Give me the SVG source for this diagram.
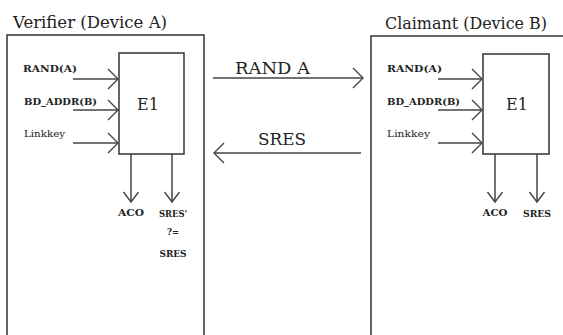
<svg xmlns="http://www.w3.org/2000/svg" width="563" height="335" viewBox="0 0 563 335">
<defs>
<style>
.box{fill:none;stroke:#333;stroke-width:1.5}
.ln{fill:none;stroke:#444;stroke-width:1.5}
.title{font-family:"DejaVu Serif","Liberation Serif",serif;font-size:16px;fill:#222}
.big{font-family:"DejaVu Serif","Liberation Serif",serif;font-size:16px;fill:#222}
.sm{font-family:"DejaVu Serif","Liberation Serif",serif;font-size:9.5px;font-weight:bold;fill:#222}
.smn{font-family:"DejaVu Serif","Liberation Serif",serif;font-size:10px;fill:#222}
</style>
<marker id="ah" markerUnits="userSpaceOnUse" markerWidth="26" markerHeight="26" viewBox="-13 -13 26 26" refX="0" refY="0" orient="auto">
<path d="M-10,-10 L0,0 L-10,10" fill="none" stroke="#444" stroke-width="1.4"/>
</marker>
<marker id="ahs" markerUnits="userSpaceOnUse" markerWidth="24" markerHeight="24" viewBox="-12 -12 24 24" refX="0" refY="0" orient="auto">
<path d="M-10,-7.5 L0,0 L-10,7.5" fill="none" stroke="#444" stroke-width="1.4"/>
</marker>
</defs>
<rect width="563" height="335" fill="#fff"/>

<g id="verifier">
<path class="box" d="M7,336 V35 H204 V336"/>
<text class="title" x="13" y="28" textLength="154" lengthAdjust="spacingAndGlyphs">Verifier (Device A)</text>
</g>
<g id="e1-a">
<rect class="box" x="119" y="53" width="65" height="101"/>
<text class="big" x="148" y="110" text-anchor="middle">E1</text>
</g>
<g id="inputs-a">
<text class="sm" x="23" y="72" textLength="54" lengthAdjust="spacingAndGlyphs">RAND(A)</text>
<text class="sm" x="24" y="105" textLength="73" lengthAdjust="spacingAndGlyphs">BD_ADDR(B)</text>
<text class="smn" x="24" y="137" textLength="41" lengthAdjust="spacingAndGlyphs">Linkkey</text>
</g>
<g id="outputs-a">
<text class="sm" x="131" y="216" text-anchor="middle" textLength="26" lengthAdjust="spacingAndGlyphs">ACO</text>
<text class="sm" x="173" y="217" text-anchor="middle" textLength="28" lengthAdjust="spacingAndGlyphs">SRES'</text>
<text class="sm" x="173" y="235" text-anchor="middle" textLength="12" lengthAdjust="spacingAndGlyphs">?=</text>
<text class="sm" x="173" y="257" text-anchor="middle" textLength="27" lengthAdjust="spacingAndGlyphs">SRES</text>
</g>

<g id="claimant">
<path class="box" d="M371,336 V36 H565"/>
<text class="title" x="385" y="29" textLength="162" lengthAdjust="spacingAndGlyphs">Claimant (Device B)</text>
</g>
<g id="e1-b">
<rect class="box" x="483" y="54" width="66" height="100"/>
<text class="big" x="517" y="110" text-anchor="middle">E1</text>
</g>
<g id="inputs-b">
<text class="sm" x="387" y="72" textLength="55" lengthAdjust="spacingAndGlyphs">RAND(A)</text>
<text class="sm" x="387" y="105" textLength="73" lengthAdjust="spacingAndGlyphs">BD_ADDR(B)</text>
<text class="smn" x="387" y="137" textLength="43" lengthAdjust="spacingAndGlyphs">Linkkey</text>
</g>
<g id="outputs-b">
<text class="sm" x="495" y="216" text-anchor="middle" textLength="25" lengthAdjust="spacingAndGlyphs">ACO</text>
<text class="sm" x="537" y="217" text-anchor="middle" textLength="28" lengthAdjust="spacingAndGlyphs">SRES</text>
</g>

<g id="messages">
<text class="big" x="235" y="74" textLength="75" lengthAdjust="spacingAndGlyphs">RAND A</text>
<text class="big" x="258" y="145" textLength="48" lengthAdjust="spacingAndGlyphs">SRES</text>
</g>

<g id="connectors">
<line class="ln" x1="73" y1="79" x2="118" y2="79" marker-end="url(#ah)"/>
<line class="ln" x1="73" y1="110" x2="118" y2="110" marker-end="url(#ah)"/>
<line class="ln" x1="73" y1="143" x2="118" y2="143" marker-end="url(#ah)"/>
<line class="ln" x1="131" y1="154" x2="131" y2="202" marker-end="url(#ahs)"/>
<line class="ln" x1="172" y1="154" x2="172" y2="202" marker-end="url(#ahs)"/>
<line class="ln" x1="438" y1="79" x2="482" y2="79" marker-end="url(#ah)"/>
<line class="ln" x1="438" y1="110" x2="482" y2="110" marker-end="url(#ah)"/>
<line class="ln" x1="438" y1="143" x2="482" y2="143" marker-end="url(#ah)"/>
<line class="ln" x1="495" y1="154" x2="495" y2="202" marker-end="url(#ahs)"/>
<line class="ln" x1="537" y1="154" x2="537" y2="202" marker-end="url(#ahs)"/>
<line class="ln" x1="213" y1="78" x2="363" y2="78" marker-end="url(#ah)"/>
<line class="ln" x1="361" y1="153" x2="214" y2="153" marker-end="url(#ah)"/>
</g>
</svg>
